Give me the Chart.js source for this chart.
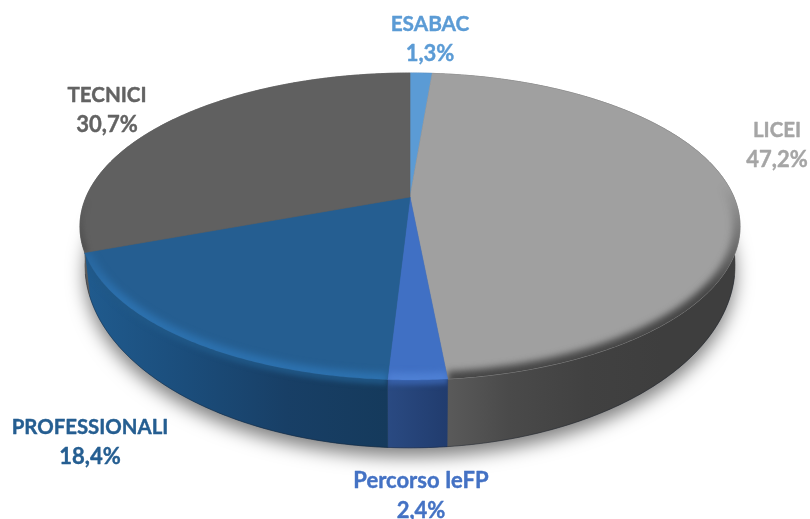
<!DOCTYPE html>
<html><head><meta charset="utf-8">
<style>html,body{margin:0;padding:0;background:#fff}#w{width:810px;height:519px;position:relative}</style>
<script src="https://cdn.jsdelivr.net/npm/chart.js@4"></script></head>
<body><div id="w"><canvas id="c" width="810" height="519"></canvas></div>
<script>
const categories = ['ESABAC','LICEI','Percorso IeFP','PROFESSIONALI','TECNICI'];
const shares = [1.3,47.2,2.4,18.4,30.7];
const faceColors = ['#5b9bd5','#a0a0a0','#4070c4','#255e91','#606060'];
const labelColors = ['#5b9bd5','#a5a5a5','#4472c4','#255e91','#636363'];
const wallStops = [
  ['#3d6e9c','#3d6e9c'],
  ['#5e5e5e','#4a4a4a','#414141','#3e3e3e','#3e3e3e'],
  ['#2a4a82','#213c6e'],
  ['#205b8e','#1b4d7b','#183f66','#153a5c'],
  ['#5a5a5a','#5e5e5e']
];
const wallEdge = [[91,155,213],[72,72,72],[56,98,172],[32,88,135],[96,96,96]];
const labelAnchors = [[430,24],[777,130],[421,481],[90,427],[107,95]];
const nameSizes = [20.8,20.5,22,20.4,20.6];
const valueSize = 22;

const P = 0.192;
const TOP = {a:323.9,b:147.8,dy:-62.5};
const LOW = {a:319,b:176,dy:-29.5};
function proj(el,g,u,v){
  const k = g.a/259.5*el.outerRadius;
  const m = g.b/259.5*el.outerRadius;
  const w = 1-P*v;
  return [el.x+k*u/w, el.y+g.dy+m*v/w];
}
function rim(el,g,ctx,reverse,first){
  const n = Math.max(4,Math.ceil((el.endAngle-el.startAngle)/0.01));
  for(let i=0;i<=n;i++){
    const t = reverse? 1-i/n : i/n;
    const a = el.startAngle+(el.endAngle-el.startAngle)*t;
    const q = proj(el,g,Math.cos(a),Math.sin(a));
    if(i===0&&first) ctx.moveTo(q[0],q[1]); else ctx.lineTo(q[0],q[1]);
  }
}
function softGrad(ctx,y0,y1,c,al){
  const q=ctx.createLinearGradient(0,y0,0,y1);
  q.addColorStop(0,`rgba(${c[0]},${c[1]},${c[2]},0)`);
  q.addColorStop(1,`rgba(${c[0]},${c[1]},${c[2]},${al})`);
  return q;
}
function strokeRim(ctx,el,style,w,blur){
  ctx.filter=`blur(${blur}px)`;ctx.strokeStyle=style;ctx.lineWidth=w;
  ctx.beginPath();rim(el,TOP,ctx,false,true);ctx.stroke();ctx.filter='none';
}
function bevel(ctx,el,idx){
  ctx.save();
  ctx.beginPath();const c=proj(el,TOP,0,0);ctx.moveTo(c[0],c[1]);rim(el,TOP,ctx,false,false);ctx.closePath();ctx.clip();
  if(idx===1){strokeRim(ctx,el,softGrad(ctx,185,290,[60,60,60],.9),15,3.5);}
  else if(idx===2){strokeRim(ctx,el,softGrad(ctx,215,300,[85,135,220],.65),14,3);}
  else if(idx===3){strokeRim(ctx,el,softGrad(ctx,215,300,[46,118,182],.8),13,3.5);}
  else if(idx===4){strokeRim(ctx,el,softGrad(ctx,200,245,[70,70,70],.6),8,2.5);}
  ctx.restore();
}
Chart.ArcElement.prototype.draw = function(ctx){
  const idx=this.$context?this.$context.dataIndex:0;
  const c=proj(this,TOP,0,0);
  ctx.save();
  ctx.beginPath();ctx.moveTo(c[0],c[1]);rim(this,TOP,ctx,false,false);ctx.closePath();
  ctx.fillStyle=this.options.backgroundColor;ctx.strokeStyle=this.options.backgroundColor;ctx.lineWidth=.6;ctx.fill();ctx.stroke();
  ctx.restore();
  bevel(ctx,this,idx);
};
const depth={id:'depth',beforeDatasetsDraw(chart){
  const ctx=chart.ctx,els=chart.getDatasetMeta(0).data;
  const full={x:els[0].x,y:els[0].y,outerRadius:els[0].outerRadius,startAngle:0,endAngle:Math.PI*2};
  ctx.save();
  ctx.shadowColor='rgba(0,0,0,.5)';ctx.shadowBlur=18;ctx.shadowOffsetY=9;ctx.fillStyle='#555';
  ctx.beginPath();rim(full,LOW,ctx,false,true);ctx.closePath();ctx.fill();
  ctx.restore();
  els.forEach((el,i)=>{
    const p0=proj(el,TOP,Math.cos(el.startAngle),Math.sin(el.startAngle));
    const p1=proj(el,TOP,Math.cos(el.endAngle),Math.sin(el.endAngle));
    const stops=wallStops[i];
    let x0=Math.min(p0[0],p1[0]),x1=Math.max(p0[0],p1[0]);
    if(i===1) x1=740; if(i===4) {x0=78;x1=100;}
    const g=ctx.createLinearGradient(x0,0,x1,0);
    stops.forEach((s,k)=>g.addColorStop(k/(stops.length-1),s));
    ctx.save();ctx.fillStyle=g;ctx.strokeStyle=g;ctx.lineWidth=.5;
    ctx.beginPath();rim(el,TOP,ctx,false,true);rim(el,LOW,ctx,true,false);ctx.closePath();ctx.fill();ctx.stroke();
    ctx.clip();
    if(i!==1) strokeRim(ctx,el,softGrad(ctx,215,300,wallEdge[i],.9),10,2.5);
    ctx.restore();
  });
  ctx.save();ctx.beginPath();rim({...full,startAngle:0.25,endAngle:2.9},LOW,ctx,false,true);
  ctx.strokeStyle='rgba(10,20,35,.3)';ctx.lineWidth=1;ctx.stroke();ctx.restore();
}};
const labels={id:'labels',afterDatasetsDraw(chart){
  const ctx=chart.ctx;ctx.save();ctx.textAlign='center';ctx.textBaseline='middle';ctx.lineJoin='round';
  categories.forEach((name,i)=>{
    const [x,y]=labelAnchors[i];ctx.fillStyle=labelColors[i];ctx.strokeStyle=labelColors[i];ctx.lineWidth=.4;
    ctx.font=`bold ${nameSizes[i]}px Lato`;
    ctx.fillText(name,x,y);ctx.strokeText(name,x,y);
    const val=shares[i].toFixed(1).replace('.',',')+'%';
    ctx.font=`bold ${valueSize}px Lato`;
    ctx.fillText(val,x,y+29.5);ctx.strokeText(val,x,y+29.5);
  });ctx.restore();
}};
new Chart(document.getElementById('c'),{type:'pie',
  data:{labels:categories,datasets:[{data:shares,backgroundColor:faceColors,borderWidth:0}]},
  options:{responsive:false,animation:false,layout:{padding:{left:10}},
    plugins:{legend:{display:false},tooltip:{enabled:false}}},
  plugins:[depth,labels]});
</script></body></html>
